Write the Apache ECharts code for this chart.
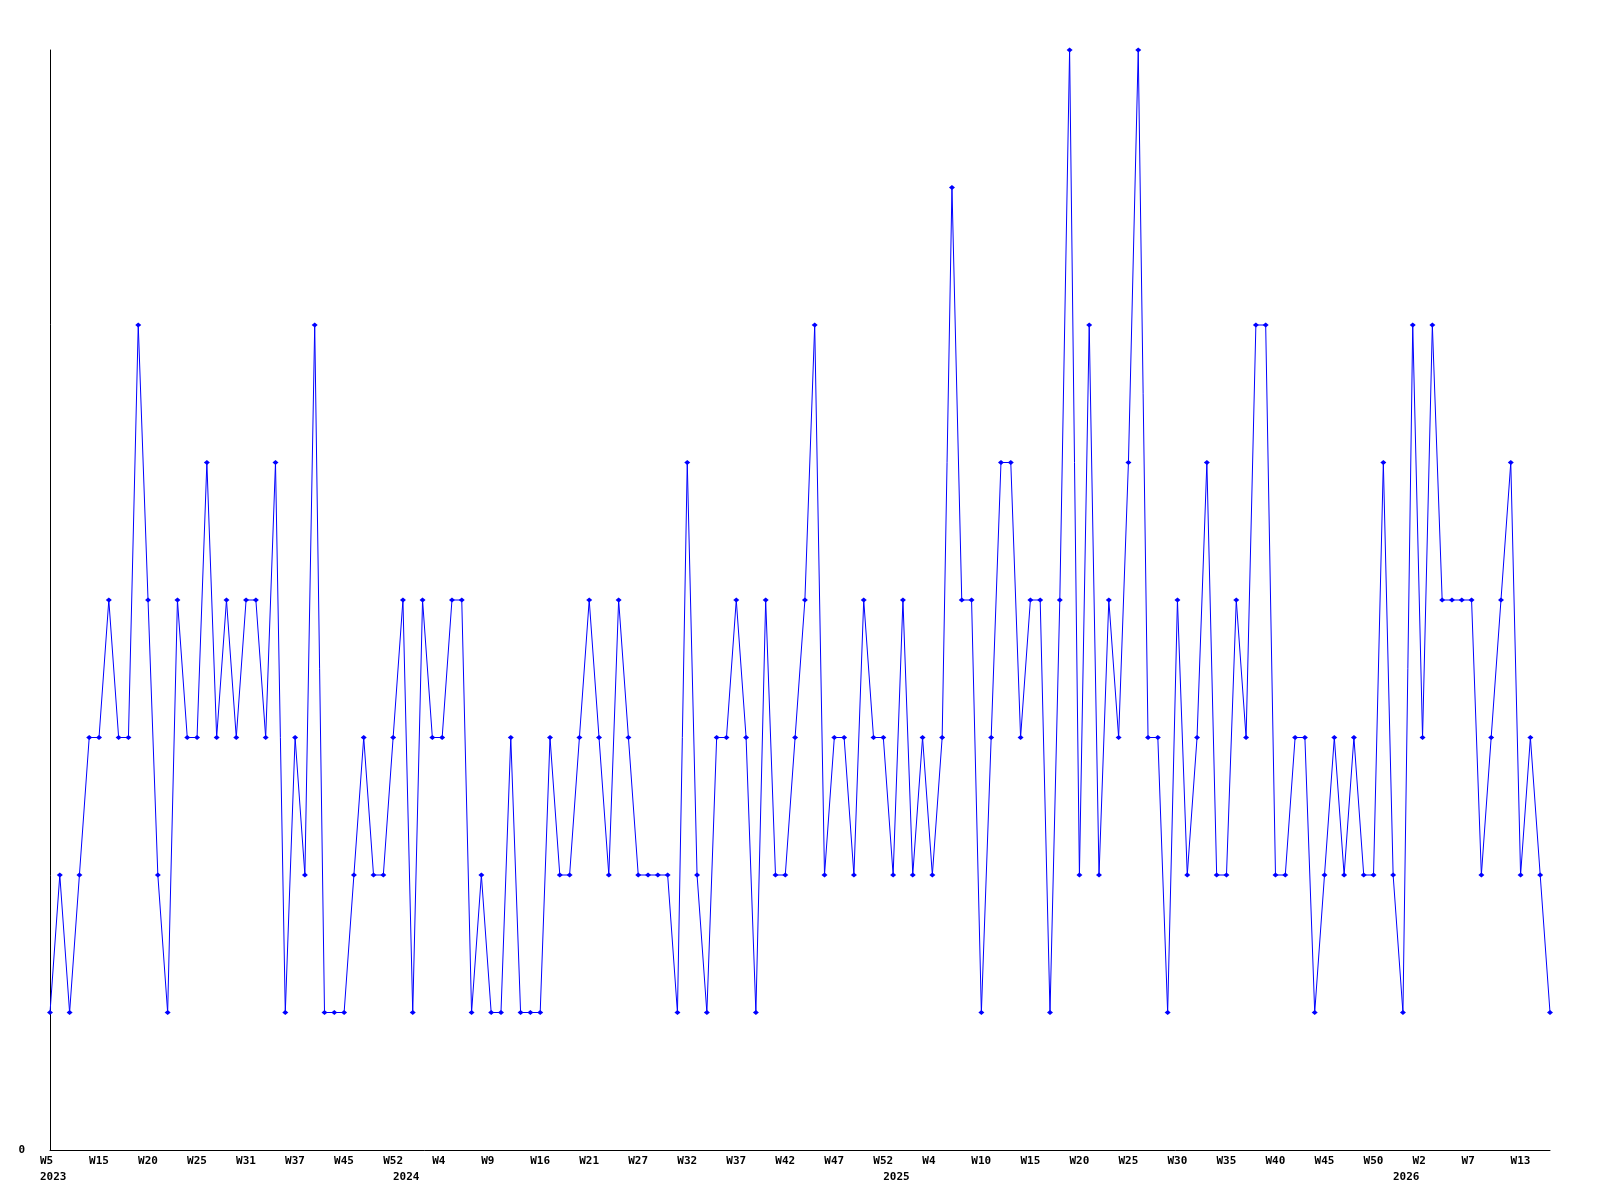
<!DOCTYPE html>
<html>
<head>
<meta charset="utf-8">
<script src="https://cdn.jsdelivr.net/npm/echarts@6/dist/echarts.min.js"></script>
<style>
  html, body { margin: 0; padding: 0; background: #ffffff; }
  #chart { width: 1600px; height: 1200px; }
</style>
</head>
<body>
<div id="chart"></div>
<script>
// Sample periods (year-week); labels shown every 5th sample
const categories = [
  '2023-W05','2023-W07','2023-W09','2023-W11','2023-W13','2023-W15','2023-W16','2023-W17','2023-W18','2023-W19',
  '2023-W20','2023-W21','2023-W22','2023-W23','2023-W24','2023-W25','2023-W26','2023-W27','2023-W28','2023-W30',
  '2023-W31','2023-W32','2023-W33','2023-W34','2023-W36','2023-W37','2023-W38','2023-W40','2023-W41','2023-W43',
  '2023-W45','2023-W46','2023-W47','2023-W49','2023-W50','2023-W52',
  '2024-W00','2024-W01','2024-W02','2024-W03','2024-W04','2024-W05','2024-W06','2024-W07','2024-W08','2024-W09',
  '2024-W11','2024-W12','2024-W13','2024-W15','2024-W16','2024-W17','2024-W18','2024-W19','2024-W20','2024-W21',
  '2024-W22','2024-W23','2024-W25','2024-W26','2024-W27','2024-W28','2024-W29','2024-W30','2024-W31','2024-W32',
  '2024-W33','2024-W34','2024-W35','2024-W36','2024-W37','2024-W38','2024-W39','2024-W40','2024-W41','2024-W42',
  '2024-W43','2024-W44','2024-W45','2024-W46','2024-W47','2024-W48','2024-W49','2024-W50','2024-W51','2024-W52',
  '2025-W00','2025-W01','2025-W02','2025-W03','2025-W04','2025-W05','2025-W06','2025-W07','2025-W09','2025-W10',
  '2025-W11','2025-W12','2025-W13','2025-W14','2025-W15','2025-W16','2025-W17','2025-W18','2025-W19','2025-W20',
  '2025-W21','2025-W22','2025-W23','2025-W24','2025-W25','2025-W26','2025-W27','2025-W28','2025-W29','2025-W30',
  '2025-W31','2025-W32','2025-W33','2025-W34','2025-W35','2025-W36','2025-W37','2025-W38','2025-W39','2025-W40',
  '2025-W41','2025-W42','2025-W43','2025-W44','2025-W45','2025-W46','2025-W47','2025-W48','2025-W49','2025-W50',
  '2025-W51','2025-W52',
  '2026-W00','2026-W01','2026-W02','2026-W03','2026-W04','2026-W05','2026-W06','2026-W07','2026-W08','2026-W09',
  '2026-W11','2026-W12','2026-W13','2026-W14','2026-W15','2026-W16'
];

const values = [
  1,2,1,2,3,3,4,3,3,6,4,2,1,4,3,3,5,3,4,3,
  4,4,3,5,1,3,2,6,1,1,1,2,3,2,2,3,4,1,4,3,
  3,4,4,1,2,1,1,3,1,1,1,3,2,2,3,4,3,2,4,3,
  2,2,2,2,1,5,2,1,3,3,4,3,1,4,2,2,3,4,6,2,
  3,3,2,4,3,3,2,4,2,3,2,3,7,4,4,1,3,5,5,3,
  4,4,1,4,8,2,6,2,4,3,5,8,3,3,1,4,2,3,5,2,
  2,4,3,6,6,2,2,3,3,1,2,3,2,3,2,2,5,2,1,6,
  3,6,4,4,4,4,2,3,4,5,2,3,2,1
];

const yTickLabels = ['0'];

const FONT = 'DejaVu Sans Mono';
const yearOf = c => c.split('-W')[0];
const weekOf = c => 'W' + parseInt(c.split('-W')[1], 10);

const chart = echarts.init(document.getElementById('chart'), null, { renderer: 'canvas' });
chart.setOption({
  animation: false,
  backgroundColor: '#ffffff',
  grid: { left: 50, right: 50, top: 50, bottom: 50, containLabel: false },
  xAxis: [
    {
      type: 'category',
      data: categories,
      boundaryGap: false,
      axisLine: { show: true, onZero: false, lineStyle: { color: '#000000', width: 1 } },
      axisTick: { show: false },
      splitLine: { show: false },
      axisLabel: {
        interval: 4,
        margin: 6,
        formatter: v => '{w|' + weekOf(v) + '}',
        rich: { w: { width: 20, align: 'left', fontFamily: FONT, fontWeight: 'bold', fontSize: 11, color: '#000' } }
      }
    },
    {
      type: 'category',
      data: categories,
      boundaryGap: false,
      position: 'bottom',
      axisLine: { show: false },
      axisTick: { show: false },
      splitLine: { show: false },
      axisLabel: {
        margin: 22,
        interval: (idx, v) => idx === 0 || yearOf(v) !== yearOf(categories[idx - 1]),
        formatter: v => '{y|' + yearOf(v) + '}',
        rich: { y: { width: 20, align: 'left', fontFamily: FONT, fontWeight: 'bold', fontSize: 11, color: '#000' } }
      }
    }
  ],
  yAxis: {
    type: 'value',
    min: 0,
    max: 8,
    interval: 8,
    axisLine: { show: true, lineStyle: { color: '#000000', width: 1 } },
    axisTick: { show: false },
    splitLine: { show: false },
    axisLabel: {
      margin: 25,
      fontFamily: FONT,
      fontWeight: 'bold',
      fontSize: 11,
      color: '#000',
      formatter: v => (v === 0 ? yTickLabels[0] : '')
    }
  },
  series: [
    {
      type: 'line',
      xAxisIndex: 0,
      data: values,
      symbol: 'diamond',
      symbolSize: [6, 5],
      showSymbol: true,
      showAllSymbol: true,
      itemStyle: { color: '#0000ff' },
      lineStyle: { color: '#0000ff', width: 1 },
      emphasis: { disabled: true }
    }
  ]
});
</script>
</body>
</html>
